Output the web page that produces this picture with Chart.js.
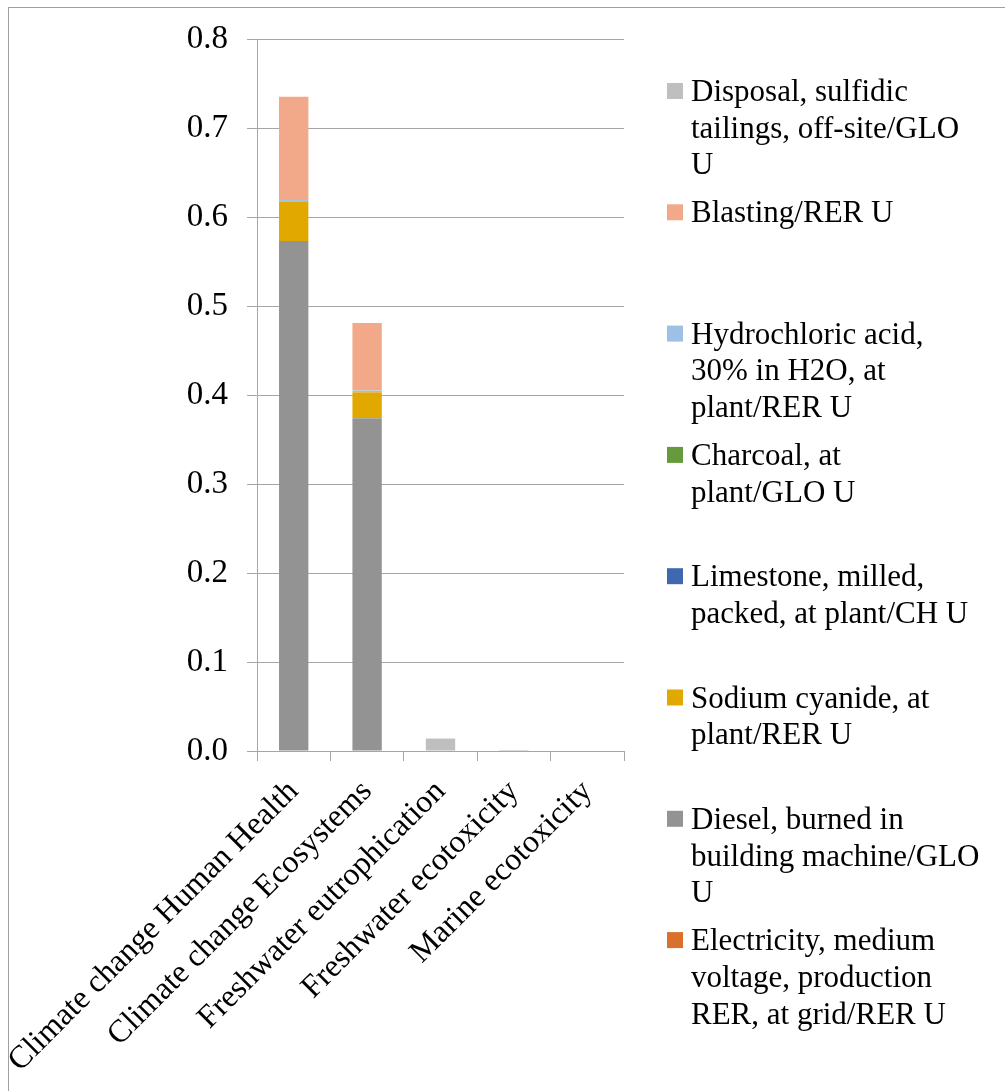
<!DOCTYPE html>
<html>
<head>
<meta charset="utf-8">
<script src="https://cdn.jsdelivr.net/npm/chart.js@4.4.1/dist/chart.umd.min.js"></script>
<style>
  html, body { margin: 0; padding: 0; background: #ffffff; }
  #wrap { position: relative; width: 1005px; height: 1091px; overflow: hidden; }
  #wrap canvas { position: absolute; left: 0; top: 0; }
  #frame { position: absolute; left: 8px; top: 7px; right: -2px; bottom: -2px;
           border-left: 1px solid #a0a0a0; border-top: 1px solid #a0a0a0; pointer-events: none; }
</style>
</head>
<body>
<div id="wrap">
  <canvas id="chart" width="1005" height="1091"></canvas>
  <div id="frame"></div>
</div>
<script>
// Impact categories on the x axis
const categories = [
  "Climate change Human Health",
  "Climate change Ecosystems",
  "Freshwater eutrophication",
  "Freshwater ecotoxicity",
  "Marine ecotoxicity"
];

// Contribution of each process, stacked bottom to top
const electricity   = [0, 0, 0, 0, 0];
const diesel        = [0.573, 0.374, 0, 0, 0];
const sodiumCyanide = [0.044, 0.029, 0, 0, 0];
const limestone     = [0, 0, 0, 0, 0];
const charcoal      = [0, 0, 0, 0, 0];
const hydrochloric  = [0.002, 0.002, 0, 0, 0];
const blasting      = [0.116, 0.076, 0, 0, 0];
const disposal      = [0, 0, 0.014, 0.0012, 0];

// Legend text, one entry per series, already broken into lines
const electricityLines   = ["Electricity, medium", "voltage, production", "RER, at grid/RER U"];
const dieselLines        = ["Diesel, burned in", "building machine/GLO", "U"];
const sodiumCyanideLines = ["Sodium cyanide, at", "plant/RER U"];
const limestoneLines     = ["Limestone, milled,", "packed, at plant/CH U"];
const charcoalLines      = ["Charcoal, at", "plant/GLO U"];
const hydrochloricLines  = ["Hydrochloric acid,", "30% in H2O, at", "plant/RER U"];
const blastingLines      = ["Blasting/RER U"];
const disposalLines      = ["Disposal, sulfidic", "tailings, off-site/GLO", "U"];

// Y axis tick values
const yTicks = [0, 0.1, 0.2, 0.3, 0.4, 0.5, 0.6, 0.7, 0.8];

const FONT = "'Liberation Serif', 'Times New Roman', serif";
const AXIS_GREY = "#a6a6a6";

const series = [
  { data: electricity,   lines: electricityLines,   color: "#d9712c" },
  { data: diesel,        lines: dieselLines,        color: "#939393" },
  { data: sodiumCyanide, lines: sodiumCyanideLines, color: "#e1a800" },
  { data: limestone,     lines: limestoneLines,     color: "#4068b0" },
  { data: charcoal,      lines: charcoalLines,      color: "#659a3d" },
  { data: hydrochloric,  lines: hydrochloricLines,  color: "#9dc0e4" },
  { data: blasting,      lines: blastingLines,      color: "#f1a98a" },
  { data: disposal,      lines: disposalLines,      color: "#bfbfbf" }
];

// Legend drawn on the canvas, top entry = topmost series
const sideLegend = {
  id: "sideLegend",
  afterDraw(chart) {
    const ctx = chart.ctx;
    const ds = chart.data.datasets;
    const boxX = 667, boxSize = 16, textX = 691;
    const firstTop = 83, slot = 121.3, lineH = 36.7;
    ctx.save();
    ctx.font = "31px " + FONT;
    ctx.textAlign = "left";
    ctx.textBaseline = "alphabetic";
    for (let i = 0; i < ds.length; i++) {
      const d = ds[ds.length - 1 - i];
      const top = firstTop + i * slot;
      ctx.fillStyle = d.backgroundColor;
      ctx.fillRect(boxX, top, boxSize, boxSize);
      ctx.fillStyle = "#000000";
      const base = top + boxSize / 2 + 10;
      d.legendLines.forEach((ln, k) => ctx.fillText(ln, textX, base + k * lineH));
    }
    ctx.restore();
  }
};

new Chart(document.getElementById("chart"), {
  type: "bar",
  data: {
    labels: categories,
    datasets: series.map(s => ({
      label: s.lines.join(" "),
      legendLines: s.lines,
      data: s.data,
      backgroundColor: s.color,
      borderWidth: 0,
      categoryPercentage: 1.0,
      barPercentage: 0.4
    }))
  },
  options: {
    responsive: false,
    animation: false,
    layout: { padding: { top: 39, right: 381, bottom: 0, left: 0 } },
    plugins: { legend: { display: false }, tooltip: { enabled: false } },
    scales: {
      x: {
        stacked: true,
        offset: true,
        afterFit(scale) {
          scale.height = 340;
          scale.paddingLeft = 0;
          scale.paddingRight = 0;
        },
        grid: { display: true, drawOnChartArea: false, drawTicks: true, tickLength: 10, color: AXIS_GREY, lineWidth: 1, offset: true },
        border: { display: true, color: AXIS_GREY, width: 1 },
        ticks: { autoSkip: false, minRotation: 45, maxRotation: 45, padding: 12, color: "#000000", font: { family: FONT, size: 32 } }
      },
      y: {
        stacked: true,
        min: 0,
        max: 0.8,
        afterFit(scale) { scale.width = 257; },
        afterBuildTicks(scale) { scale.ticks = yTicks.map(v => ({ value: v })); },
        grid: { color: AXIS_GREY, lineWidth: 1, drawTicks: true, tickLength: 10 },
        border: { display: true, color: AXIS_GREY, width: 1 },
        ticks: { padding: 19, color: "#000000", font: { family: FONT, size: 33 }, callback: v => Number(v).toFixed(1) }
      }
    }
  },
  plugins: [sideLegend]
});
</script>
</body>
</html>
